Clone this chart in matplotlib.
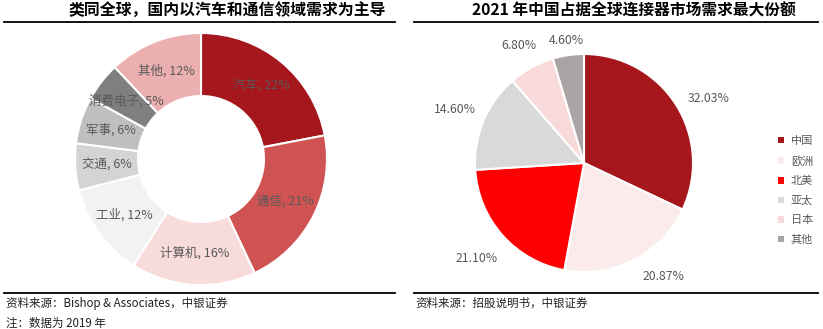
import matplotlib
matplotlib.use("Agg")
import matplotlib.pyplot as plt
import numpy as np
from matplotlib.lines import Line2D
from matplotlib.patches import Patch

plt.rcParams['font.family'] = ['Noto Sans CJK SC', 'DejaVu Sans']

W, H = 823, 329

# Left: downstream application mix (2019)
app_names = ['汽车', '通信', '计算机', '工业', '交通', '军事', '消费电子', '其他']
app_share = [22, 21, 16, 12, 6, 6, 5, 12]
app_colors = ['#A5161D', '#D05353', '#F8DBDB', '#F2F2F2', '#D4D4D4',
              '#BFBFBF', '#7F7F7F', '#EBAFAF']

# Right: regional demand share 2021
regions = ['中国', '欧洲', '北美', '亚太', '日本', '其他']
region_share = [32.03, 20.87, 21.10, 14.60, 6.80, 4.60]
region_colors = ['#A5161D', '#FBEBEB', '#FF0000', '#D9D9D9', '#F8DADA', '#A9A5A5']
# radial offset of each outside label (pie radii) and angular nudge (degrees)
label_radius = [1.29, 1.27, 1.32, 1.28, 1.23, 1.14]
label_nudge = [-5, 8, 0, 0, 0, 0]

left_title = '类同全球，国内以汽车和通信领域需求为主导'
right_title = '2021 年中国占据全球连接器市场需求最大份额'
left_notes = ['资料来源：Bishop & Associates，中银证券', '注：数据为 2019 年']
right_notes = ['资料来源：招股说明书，中银证券']

fig = plt.figure(figsize=(W / 100, H / 100), dpi=100)


def px_axes(cx, cy, r):
    return fig.add_axes([(cx - r) / W, 1 - (cy + r) / H, 2 * r / W, 2 * r / H])


def hline(x0, x1, y):
    fig.add_artist(Line2D([x0 / W, x1 / W], [1 - y / H, 1 - y / H],
                          color='black', lw=1.3, transform=fig.transFigure))


# Donut
ax1 = px_axes(201, 159, 126)
labels1 = [f'{n}, {v}%' for n, v in zip(app_names, app_share)]
wedges, texts = ax1.pie(app_share, colors=app_colors, startangle=90,
                        counterclock=False, labels=labels1, labeldistance=0.75,
                        wedgeprops=dict(width=0.5, edgecolor='white', linewidth=1.5),
                        textprops=dict(fontsize=9, color='#595959'))
for t in texts:
    t.set_ha('center')
    t.set_va('center')
ax1.set_xlim(-1, 1)
ax1.set_ylim(-1, 1)
ax1.set_aspect('equal')

# Pie
ax2 = px_axes(584, 163, 109)
labels2 = [f'{v:.2f}%' for v in region_share]
wedges2, texts2 = ax2.pie(region_share, colors=region_colors, startangle=90,
                          counterclock=False, labels=labels2, labeldistance=1.28,
                          wedgeprops=dict(edgecolor='white', linewidth=1.5),
                          textprops=dict(fontsize=8.8, color='#595959'))
for w, t, r, d in zip(wedges2, texts2, label_radius, label_nudge):
    ang = np.deg2rad((w.theta1 + w.theta2) / 2 + d)
    t.set_position((r * np.cos(ang), r * np.sin(ang)))
    t.set_ha('center')
    t.set_va('center')
ax2.set_xlim(-1, 1)
ax2.set_ylim(-1, 1)
ax2.set_aspect('equal')

handles = [Patch(facecolor=c, edgecolor='none') for c in region_colors]
fig.legend(handles, regions, loc='upper left',
           bbox_to_anchor=(768 / W, 1 - 126 / H), frameon=False,
           fontsize=8, labelcolor='#595959', handlelength=0.55,
           handleheight=0.55, handletextpad=0.6, labelspacing=0.85)

# Titles and rules
fig.text(227 / W, 1 - 11 / H, left_title, ha='center', va='center',
         fontsize=11.4, fontweight='bold', color='black')
fig.text(634 / W, 1 - 11 / H, right_title, ha='center', va='center',
         fontsize=11.3, fontweight='bold', color='black')
hline(4, 395, 22)
hline(414, 818, 22)
hline(4, 395, 293)
hline(414, 818, 293)

for i, s in enumerate(left_notes):
    fig.text(6 / W, 1 - (303 + 20 * i) / H, s, ha='left', va='center',
             fontsize=8.3, style='italic', color='#222222')
for i, s in enumerate(right_notes):
    fig.text(415 / W, 1 - 303 / H, s, ha='left', va='center',
             fontsize=8.3, style='italic', color='#222222')

fig.savefig('out.png', dpi=100)
